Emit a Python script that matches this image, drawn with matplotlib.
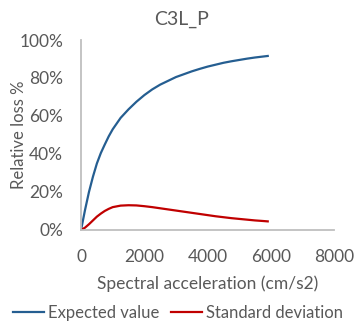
import numpy as np
import matplotlib.pyplot as plt
from matplotlib.ticker import PercentFormatter

# C3L_P fragility: expected value and standard deviation of relative loss
sa = [0, 125, 250, 375, 500, 625, 750, 875, 1000, 1250, 1500, 1750, 2000, 2250,
      2500, 2750, 3000, 3250, 3500, 3750, 4000, 4250, 4500, 4750, 5000, 5250,
      5500, 5750, 5900]
expected = [0, 10.5, 20, 28, 35, 40.5, 45, 49.3, 53, 59, 63.5, 67.5, 71, 74,
            76.5, 78.5, 80.5, 82, 83.5, 84.8, 86, 87, 88, 88.8, 89.5, 90.2,
            90.8, 91.3, 91.6]
std_dev = [0, 1.2, 3, 5, 7, 8.6, 10, 11.1, 12, 12.8, 13, 12.9, 12.5, 12,
           11.4, 10.8, 10.2, 9.6, 9, 8.4, 7.8, 7.2, 6.7, 6.2, 5.8, 5.4,
           5, 4.7, 4.5]
xticks = [0, 2000, 4000, 6000, 8000]
yticks = [0, 20, 40, 60, 80, 100]

plt.rcParams['font.family'] = ['Lato', 'DejaVu Sans']
grey = '#595959'

fig = plt.figure(figsize=(3.54, 3.28), dpi=100)
ax = fig.add_axes([0.229, 0.299, 0.715, 0.579])

ax.plot(sa, np.array(expected) / 100, color='#255E91', lw=1.6, label='Expected value')
ax.plot(sa, np.array(std_dev) / 100, color='#C00000', lw=1.6, label='Standard deviation')

ax.set_xlim(0, 8000)
ax.set_ylim(0, 1)
ax.set_xticks(xticks)
ax.set_yticks([v / 100 for v in yticks])
ax.yaxis.set_major_formatter(PercentFormatter(1.0, decimals=0))
ax.tick_params(length=0, labelsize=12.5, colors=grey)
ax.tick_params(axis='x', pad=14)
ax.tick_params(axis='y', pad=13)

for s in ['top', 'right']:
    ax.spines[s].set_visible(False)
for s in ['left', 'bottom']:
    ax.spines[s].set_color('#BFBFBF')
    ax.spines[s].set_linewidth(1.3)

fig.text(0.514, 0.94, 'C3L_P', fontsize=14, color=grey, ha='center', va='center')
ax.set_xlabel('Spectral acceleration (cm/s2)', fontsize=12.5, color=grey, labelpad=7)
ax.set_ylabel('Relative loss %', fontsize=12, color=grey)
ax.yaxis.set_label_coords(-0.215, 0.5)

fig.legend(loc='center', bbox_to_anchor=(0.502, 0.045), ncol=2, frameon=False,
           fontsize=12, labelcolor=grey, handlelength=1.9, handletextpad=0.2,
           columnspacing=0.7)

fig.savefig('out.png', dpi=100)
